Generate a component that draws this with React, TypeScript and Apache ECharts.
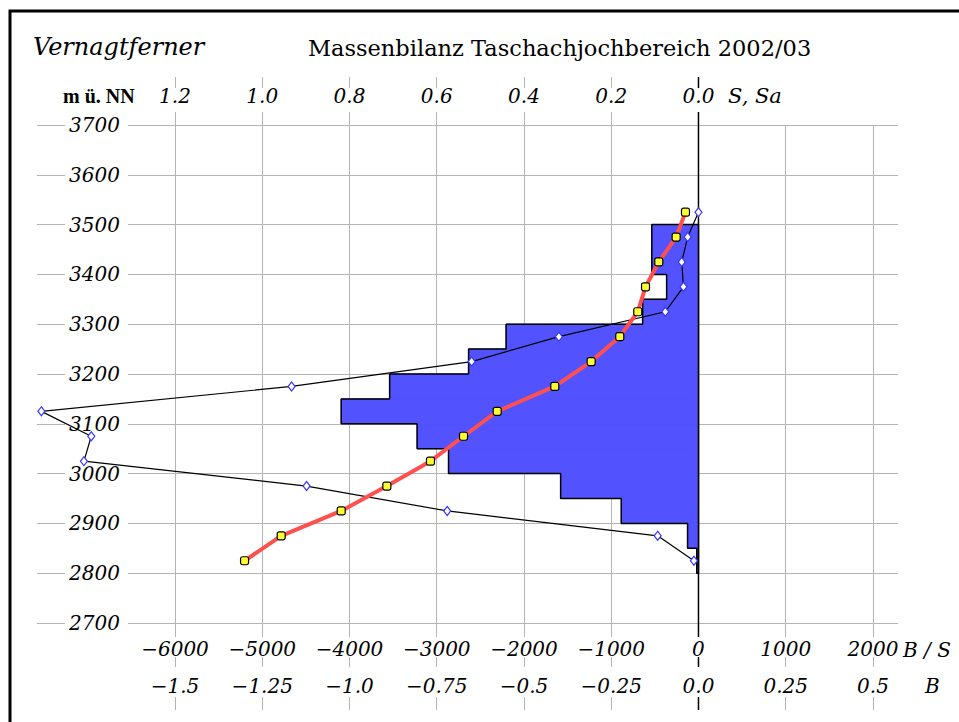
import React, { useEffect, useRef } from "react";
import * as echarts from "echarts";

// ---- data ----
// mid elevations of the 50 m bands (m a.s.l.)
const elevations = [2825, 2875, 2925, 2975, 3025, 3075, 3125, 3175, 3225, 3275, 3325, 3375, 3425, 3475, 3525];
// specific balance b (B/S axis, mm w.e.)
const specificBalance = [-5203, -4783, -4095, -3572, -3072, -2693, -2307, -1647, -1230, -902, -696, -607, -455, -256, -149];
// total balance B of each band (B axis)
const totalBalance = [-0.013, -0.117, -0.72, -1.123, -1.761, -1.74, -1.883, -1.166, -0.65, -0.4, -0.095, -0.043, -0.048, -0.031, 0.0];
// area histogram S (top axis), band lower bounds and areas
const bandBottoms = [2800, 2850, 2900, 2950, 3000, 3050, 3100, 3150, 3200, 3250, 3300, 3350, 3400, 3450];
const bandAreas = [0.004, 0.025, 0.177, 0.316, 0.573, 0.645, 0.819, 0.708, 0.527, 0.441, 0.128, 0.073, 0.107, 0.107];
const bandHeight = 50;

// tick values / labels
const elevTicks = [2700, 2800, 2900, 3000, 3100, 3200, 3300, 3400, 3500, 3600, 3700];
const elevTickLabels = ["2700", "2800", "2900", "3000", "3100", "3200", "3300", "3400", "3500", "3600", "3700"];
const bsTicks = [-6000, -5000, -4000, -3000, -2000, -1000, 0, 1000, 2000];
const bsTickLabels = ["−6000", "−5000", "−4000", "−3000", "−2000", "−1000", "0", "1000", "2000"];
const bTicks = [-1.5, -1.25, -1.0, -0.75, -0.5, -0.25, 0.0, 0.25, 0.5];
const bTickLabels = ["−1.5", "−1.25", "−1.0", "−0.75", "−0.5", "−0.25", "0.0", "0.25", "0.5"];
const sTicks = [1.2, 1.0, 0.8, 0.6, 0.4, 0.2, 0.0];
const sTickLabels = ["1.2", "1.0", "0.8", "0.6", "0.4", "0.2", "0.0"];
const elevMin = 2700;
const elevMax = 3700;
const elevStep = 100;

const BS_MIN = -7582;
const BS_MAX = 2287;
const BS_PER_B = 4000;
const BS_PER_S = -5000;

const GRID = "#b4b4b4";
const BLUE = "#5252ff";
const FONT = "DejaVu Serif";
const LABEL_FONT = `italic 20px "${FONT}"`;

function textWidth(s: string) {
  let w = 0;
  for (const c of s) {
    if (c === ".") w += 6.4;
    else if (c === "−") w += 16.8;
    else w += 12.7;
  }
  return w;
}

type Anchor = (api: any, v: number) => number[];

function labelSeries(
  xAxisIndex: number,
  ticks: number[],
  labels: string[],
  anchor: Anchor,
  opts: { dx: number; dy: number; align: string; box: number[] }
) {
  return {
    type: "custom",
    xAxisIndex,
    yAxisIndex: 0,
    silent: true,
    clip: false,
    z: 1,
    data: ticks.map((v) => [v]),
    encode: opts.align === "right" ? { y: 0 } : { x: 0 },
    renderItem: (params: any, api: any) => {
      const v = api.value(0);
      const p = anchor(api, v);
      const label = labels[params.dataIndex];
      const w = textWidth(label);
      const tx = p[0] + opts.dx;
      const ty = p[1] + opts.dy;
      let rx: number;
      let rw: number;
      if (opts.align === "right") {
        rx = p[0] + opts.box[0];
        rw = tx + opts.box[2] - rx;
      } else {
        rx = tx - w / 2 - opts.box[2];
        rw = w + 2 * opts.box[2];
      }
      return {
        type: "group",
        children: [
          {
            type: "rect",
            shape: { x: rx, y: p[1] + opts.box[1], width: rw, height: opts.box[3] - opts.box[1] },
            style: { fill: "#fff" },
          },
          {
            type: "text",
            x: tx,
            y: ty,
            style: {
              text: label,
              font: LABEL_FONT,
              fill: "#000",
              textAlign: opts.align,
              textVerticalAlign: "middle",
            },
          },
        ],
      };
    },
  };
}

export default function App() {
  const ref = useRef<HTMLDivElement | null>(null);

  useEffect(() => {
    if (!ref.current) return;
    const chart = echarts.init(ref.current, null, { renderer: "svg" });

    const bands = bandBottoms.map((lo, i) => [bandAreas[i], lo, lo + bandHeight]);
    const topOfHist = bandBottoms[bandBottoms.length - 1] + bandHeight;
    const outline: number[][] = [[0, topOfHist]];
    for (let i = bands.length - 1; i >= 0; i--) {
      outline.push([bands[i][0], bands[i][2]]);
      outline.push([bands[i][0], bands[i][1]]);
    }
    outline.push([0, bandBottoms[0]]);
    outline.push([0, topOfHist]);

    const option: any = {
      animation: false,
      backgroundColor: "#fff",
      grid: { left: 37, right: 61, top: 125, bottom: 99, outerBoundsMode: "none", containLabel: false },
      xAxis: [
        {
          type: "value",
          position: "bottom",
          min: BS_MIN,
          max: BS_MAX,
          axisLine: { show: false },
          axisTick: { show: true, customValues: bsTicks, length: 87, lineStyle: { color: GRID, width: 1 } },
          axisLabel: { show: false, customValues: bsTicks },
          splitLine: { show: true, lineStyle: { color: GRID, width: 1 } },
        },
        {
          type: "value",
          position: "bottom",
          min: BS_MIN / BS_PER_B,
          max: BS_MAX / BS_PER_B,
          axisLine: { show: false },
          axisTick: { show: false },
          splitLine: { show: false },
          axisLabel: { show: false },
        },
        {
          type: "value",
          position: "top",
          inverse: true,
          min: BS_MAX / BS_PER_S,
          max: BS_MIN / BS_PER_S,
          axisLine: { show: false },
          axisTick: { show: true, customValues: sTicks, length: 48, lineStyle: { color: GRID, width: 1 } },
          splitLine: { show: false },
          axisLabel: { show: false },
        },
      ],
      yAxis: [
        {
          type: "value",
          min: elevMin,
          max: elevMax,
          interval: elevStep,
          axisLine: { show: false },
          axisTick: { show: false },
          axisLabel: { show: false },
          splitLine: { show: true, lineStyle: { color: GRID, width: 1 } },
        },
      ],
      series: [
        {
          // zero line of the balance axes, running through the tick rows
          type: "custom",
          xAxisIndex: 0,
          yAxisIndex: 0,
          silent: true,
          clip: false,
          z: 0,
          data: [[0]],
          encode: { x: 0 },
          renderItem: (_params: any, api: any) => {
            const top = api.coord([api.value(0), elevMax]);
            const bottom = api.coord([api.value(0), elevMin]);
            return {
              type: "line",
              z2: 5,
              shape: { x1: top[0], y1: top[1] - 48, x2: bottom[0], y2: bottom[1] + 87 },
              style: { stroke: "#000", lineWidth: 1.5 },
            };
          },
        },
        // tick labels (white boxes interrupt the grid lines as in the original)
        labelSeries(0, elevTicks, elevTickLabels, (api, v) => api.coord([BS_MIN, v]), {
          dx: 83,
          dy: 0,
          align: "right",
          box: [28, -10, 8, 10],
        }),
        labelSeries(0, bsTicks, bsTickLabels, (api, v) => api.coord([v, elevMin]), {
          dx: 0,
          dy: 26,
          align: "center",
          box: [0, 14, 2, 34],
        }),
        labelSeries(1, bTicks, bTickLabels, (api, v) => api.coord([v, elevMin]), {
          dx: 0,
          dy: 63,
          align: "center",
          box: [0, 44, 2, 74],
        }),
        labelSeries(2, sTicks, sTickLabels, (api, v) => api.coord([v, elevMax]), {
          dx: 0,
          dy: -29,
          align: "center",
          box: [0, -37, 2, -13],
        }),
        {
          type: "custom",
          xAxisIndex: 2,
          yAxisIndex: 0,
          silent: true,
          z: 2,
          encode: { x: 0, y: [1, 2] },
          data: bands,
          renderItem: (_params: any, api: any) => {
            const s = api.value(0);
            const lo = api.value(1);
            const hi = api.value(2);
            const p0 = api.coord([0, hi]);
            const p1 = api.coord([s, lo]);
            return {
              type: "rect",
              shape: {
                x: Math.min(p0[0], p1[0]),
                y: Math.min(p0[1], p1[1]),
                width: Math.abs(p1[0] - p0[0]),
                height: Math.abs(p1[1] - p0[1]),
              },
              style: { fill: BLUE, stroke: BLUE, lineWidth: 1 },
            };
          },
        },
        {
          type: "line",
          xAxisIndex: 2,
          yAxisIndex: 0,
          silent: true,
          symbol: "none",
          data: outline,
          lineStyle: { color: "#000", width: 1.5 },
        },
        {
          type: "line",
          xAxisIndex: 1,
          yAxisIndex: 0,
          silent: true,
          data: elevations.map((h, i) => [totalBalance[i], h]),
          symbol: "diamond",
          symbolSize: [7, 9],
          itemStyle: { color: "#fff", borderColor: "#3535ff", borderWidth: 1.2 },
          lineStyle: { color: "#000", width: 1.2 },
        },
        {
          type: "line",
          xAxisIndex: 0,
          yAxisIndex: 0,
          silent: true,
          data: elevations.map((h, i) => [specificBalance[i], h]),
          symbol: "roundRect",
          symbolSize: 8,
          itemStyle: { color: "#ffff33", borderColor: "#000", borderWidth: 1.2 },
          lineStyle: { color: "#ff5050", width: 4 },
        },
      ],
      graphic: [
        {
          type: "rect",
          z: 100,
          shape: { x: 10, y: 11, width: 1000, height: 1000 },
          style: { fill: "none", stroke: "#000", lineWidth: 3 },
          silent: true,
        },
        {
          type: "text",
          z: 100,
          x: 33,
          y: 47,
          style: { text: "Vernagtferner", font: `italic 24px "${FONT}"`, fill: "#000", textVerticalAlign: "middle" },
        },
        {
          type: "text",
          z: 100,
          x: 308,
          y: 48,
          style: { text: "Massenbilanz Taschachjochbereich 2002/03", font: `22.5px "${FONT}"`, fill: "#000", textVerticalAlign: "middle" },
        },
        {
          type: "text",
          z: 100,
          x: 63,
          y: 96,
          style: { text: "m ü. NN", font: `bold 20px "Liberation Serif"`, fill: "#000", textVerticalAlign: "middle" },
        },
        {
          type: "text",
          z: 100,
          x: 728,
          y: 96,
          style: { text: "S, Sa", font: `italic 21px "${FONT}"`, fill: "#000", textVerticalAlign: "middle" },
        },
        {
          type: "text",
          z: 100,
          x: 903,
          y: 650,
          style: { text: "B / S", font: `italic 20px "${FONT}"`, fill: "#000", textVerticalAlign: "middle" },
        },
        {
          type: "text",
          z: 100,
          x: 925,
          y: 686,
          style: { text: "B", font: `italic 20px "${FONT}"`, fill: "#000", textVerticalAlign: "middle" },
        },
      ],
    };

    chart.setOption(option);
    return () => chart.dispose();
  }, []);

  return (
    <div
      ref={ref}
      style={{ position: "fixed", left: 0, top: 0, width: 959, height: 722, background: "#fff" }}
    />
  );
}
